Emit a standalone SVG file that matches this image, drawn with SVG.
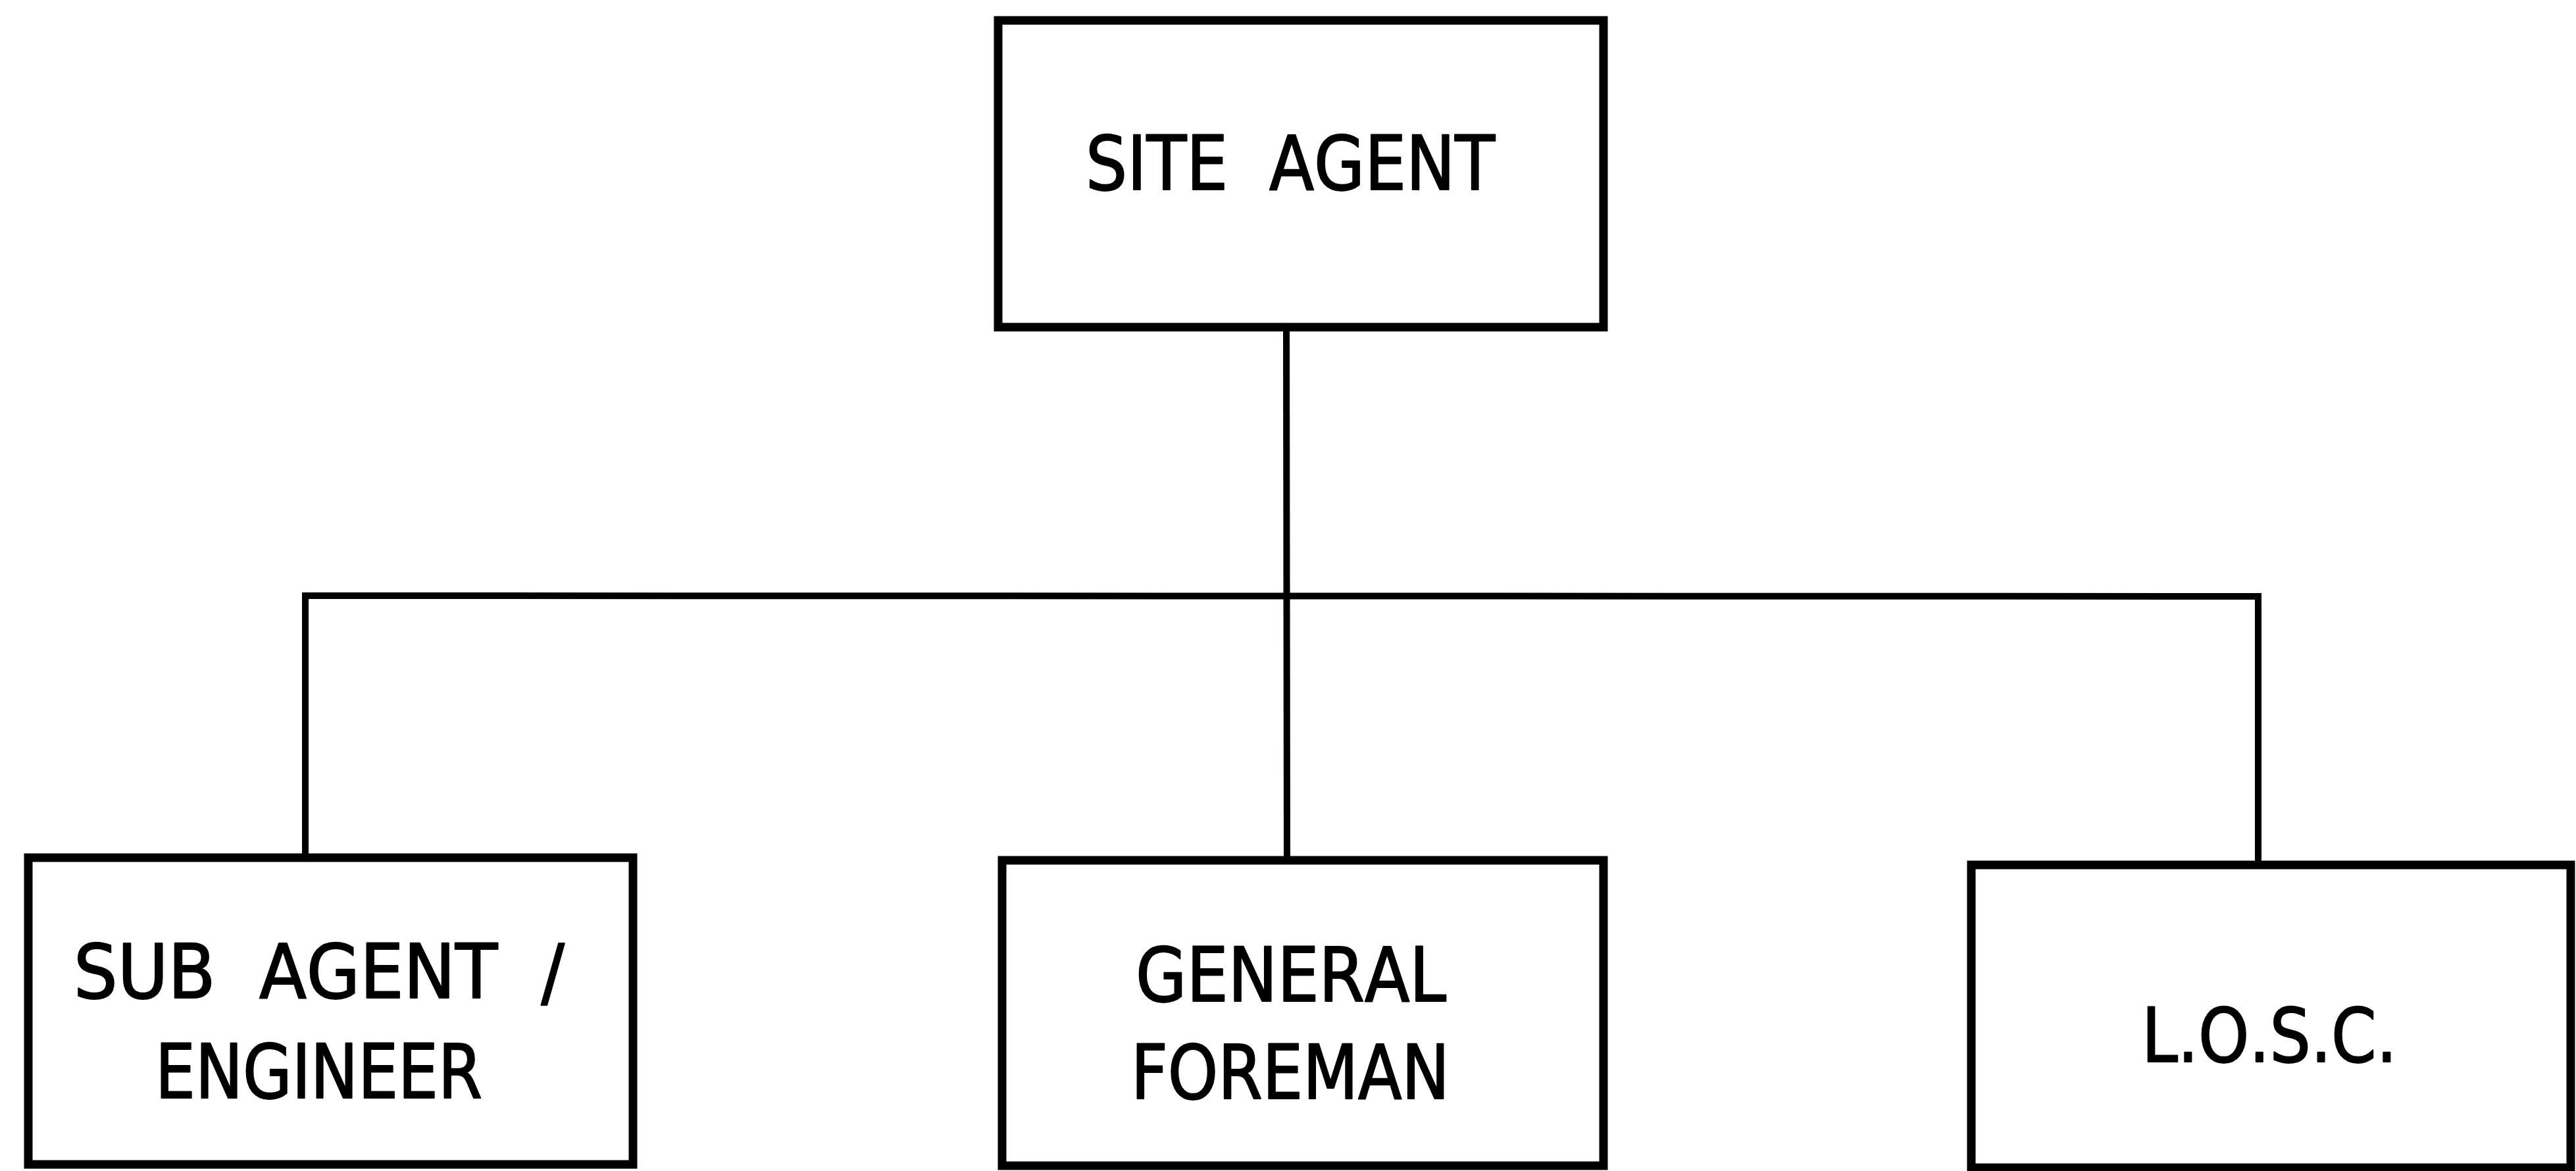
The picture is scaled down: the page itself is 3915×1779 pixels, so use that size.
<svg xmlns="http://www.w3.org/2000/svg" width="3915" height="1779" viewBox="0 0 3915 1779">
  <style>
    .box { fill: #ffffff; stroke: #000000; stroke-width: 13; }
    .wire { fill: none; stroke: #000000; stroke-width: 10; stroke-linecap: square; }
    .label { font-family: "DejaVu Sans Condensed", "DejaVu Sans", "Liberation Sans", sans-serif; font-stretch: condensed; font-size: 114px; font-kerning: none; fill: #000000; stroke: #000000; stroke-width: 2; stroke-linejoin: round; }
  </style>
  <rect x="0" y="0" width="3915" height="1779" fill="#ffffff"/>

  <!-- org-chart wiring: trunk from the top box, bus bar, and three drops -->
  <g id="connectors">
    <line class="wire" x1="1955" y1="497" x2="1956" y2="1307"/>
    <line class="wire" x1="464" y1="905" x2="3432" y2="906"/>
    <line class="wire" x1="464" y1="905" x2="464" y2="1303"/>
    <line class="wire" x1="3432" y1="906" x2="3432" y2="1314"/>
  </g>

  <g id="site-agent">
    <rect class="box" x="1517" y="31" width="920" height="466"/>
    <text class="label" x="1650" y="288" textLength="622" lengthAdjust="spacingAndGlyphs" xml:space="preserve">SITE  AGENT</text>
  </g>

  <g id="sub-agent-engineer">
    <rect class="box" x="43" y="1303" width="919" height="466"/>
    <text class="label" x="112" y="1516" textLength="746" lengthAdjust="spacingAndGlyphs" xml:space="preserve">SUB  AGENT  /</text>
    <text class="label" x="236" y="1668" textLength="497" lengthAdjust="spacingAndGlyphs">ENGINEER</text>
  </g>

  <g id="general-foreman">
    <rect class="box" x="1523" y="1307" width="914" height="464"/>
    <text class="label" x="1726" y="1521" textLength="472" lengthAdjust="spacingAndGlyphs">GENERAL</text>
    <text class="label" x="1719" y="1669" textLength="484" lengthAdjust="spacingAndGlyphs">FOREMAN</text>
  </g>

  <g id="losc">
    <rect class="box" x="2996" y="1314" width="911" height="460"/>
    <text class="label" x="3255" y="1613" textLength="388" lengthAdjust="spacingAndGlyphs">L.O.S.C.</text>
  </g>
</svg>
